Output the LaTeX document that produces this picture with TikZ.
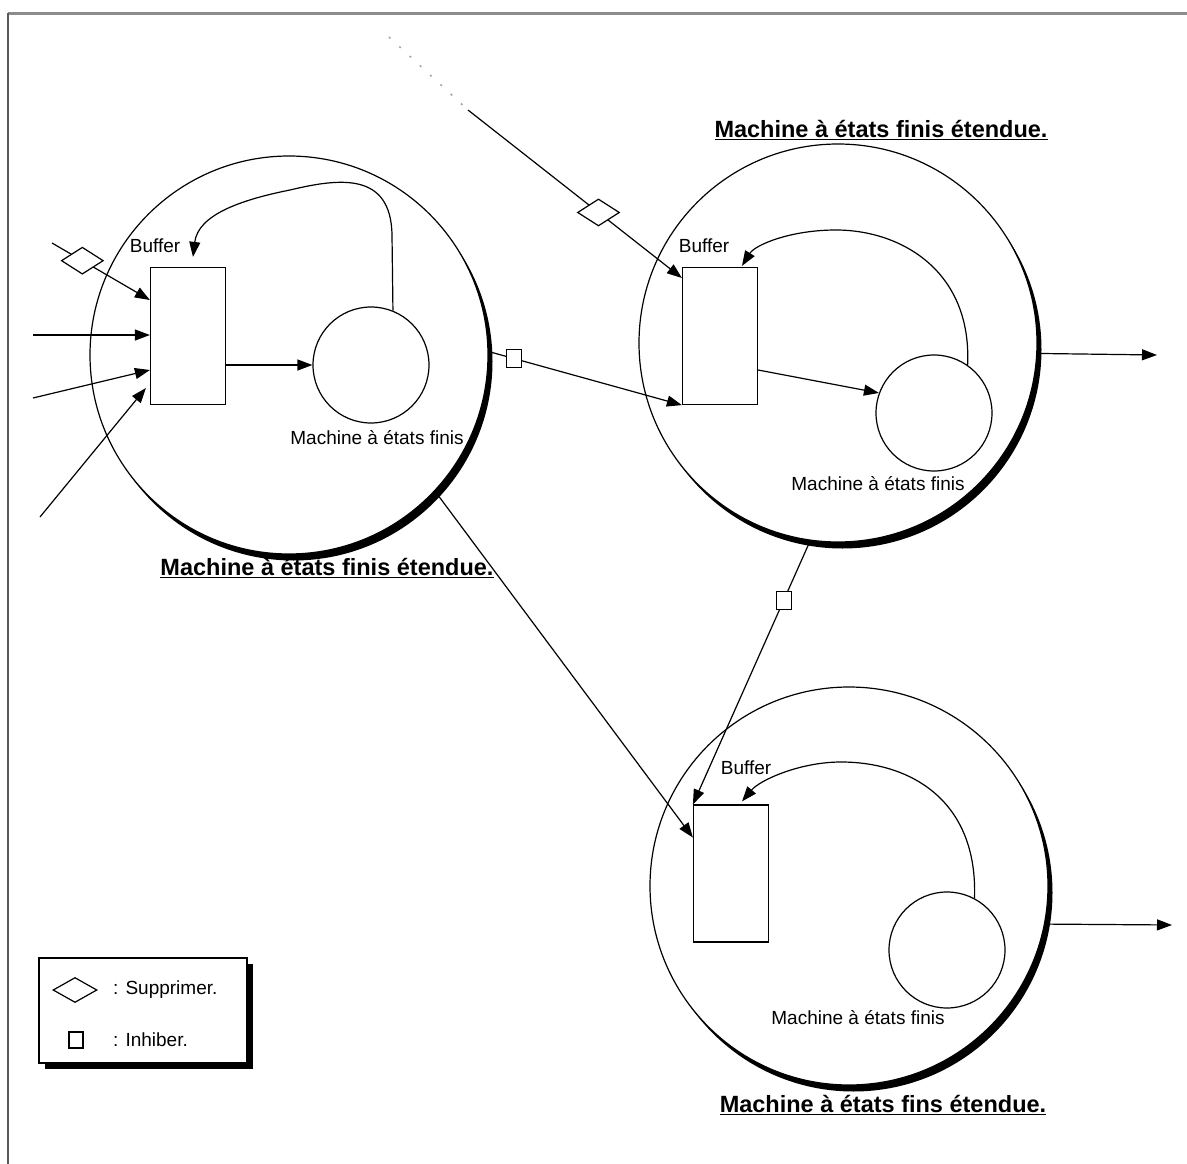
\documentclass[tikz,border=0pt]{standalone}
\usepackage{fontspec}
\setmainfont{Liberation Sans}
\usetikzlibrary{arrows.meta,shapes.geometric,shadows,calc}
\begin{document}
\begin{tikzpicture}[x=1pt,y=-1pt,
  every node/.style={font=\fontsize{19}{22}\selectfont},
  ln/.style={line width=1.2pt},
  arr/.style={ln,-{Triangle[length=15pt,width=11pt]}},
  bigc/.style={circle,draw,line width=1.2pt,fill=white,minimum size=398pt,inner sep=0pt,
    drop shadow={shadow xshift=4.5pt,shadow yshift=-6.5pt,opacity=1,fill=black}},
  smc/.style={circle,draw,line width=1.2pt,fill=white,minimum size=116pt,inner sep=0pt},
  bufbox/.style={rectangle,draw,line width=1.2pt,fill=white,minimum width=75pt,minimum height=137pt,inner sep=0pt},
  dmd/.style={diamond,draw,fill=white,line width=1.2pt,minimum width=42pt,minimum height=27pt,inner sep=0pt},
  inh/.style={rectangle,draw,fill=white,line width=1.2pt,minimum width=15pt,minimum height=18pt,inner sep=0pt},
  lbl/.style={inner sep=0pt},
  title/.style={inner sep=0pt,font=\bfseries\fontsize{23.5}{28}\selectfont},
]
\useasboundingbox (0,0) rectangle (1187,1164);
% frame
\draw[black!45,line width=3pt] (8,14) -- (1187,14);
\draw[black!65,line width=2pt] (8,13) -- (8,1164);

% big circles
\node[bigc] (c1) at (289,355) {};
\node[bigc] (c2) at (838,343) {};
\node[bigc] (c3) at (849,886) {};

% buffers
\node[bufbox] (buf1) at (188,336) {};
\node[bufbox] (buf2) at (720,336) {};
\node[bufbox] (buf3) at (731,873.5) {};

% small circles
\node[smc] (sm1) at (371,365) {};
\node[smc] (sm2) at (934,413) {};
\node[smc] (sm3) at (947,950) {};

% labels
\node[lbl] (b1) at (155,246) {Buffer};
\node[lbl] (b2) at (704,246) {Buffer};
\node[lbl] (b3) at (746,768) {Buffer};
\node[lbl] (m1) at (377,438) {Machine à états finis};
\node[lbl] (m2) at (878,484) {Machine à états finis};
\node[lbl] (m3) at (858,1018) {Machine à états finis};
\node[title] (t1) at (327,568) {\underline{Machine à états finis étendue.}};
\node[title] (t2) at (881,130) {\underline{Machine à états finis étendue.}};
\node[title] (t3) at (883,1105) {\underline{Machine à états fins étendue.}};

% internal arrows
\draw[arr] (buf1.east |- sm1.west) -- (sm1.west);
\draw[arr] ($(buf2.east)+(0,34)$) -- (sm2.160);

% feedback loops
\draw[arr] (sm1.68) -- (392,235) .. controls (391,172) and (340,178) .. (290,190)
   .. controls (240,200) and (198,215) .. ($(buf1.north)+(5,-10)$);
\draw[arr] (sm2.55) .. controls (972,270) and (900,230) .. (836,230)
   .. controls (790,230) and (755,245) .. ($(buf2.north)+(22,-1)$);
\draw[arr] (sm3.62) .. controls (978,800) and (910,762) .. (841,762)
   .. controls (800,762) and (760,780) .. ($(buf3.north)+(11,-3)$);

% inputs of buffer 1
\coordinate (i1) at (52,243);
\coordinate (i2) at (33,335);
\coordinate (i3) at (33,398);
\coordinate (i4) at (40,517);
\draw[arr] (i1) -- node[dmd,pos=0.31]{} ($(buf1.west)+(0,-36)$);
\draw[arr] (i2) -- ($(buf1.west)+(0,-1)$);
\draw[arr] (i3) -- ($(buf1.west)+(0,34)$);
\draw[arr] (i4) -- ($(buf1.west)+(-4,52)$);

% input of buffer 2 (suppressed)
\coordinate (i5) at (468,110);
\coordinate (i5f) at (389,37);
\draw[black!35,line width=1.6pt,dash pattern=on 2pt off 12pt] (i5f) -- (i5);
\draw[arr] (i5) -- node[dmd,pos=0.61]{} ($(buf2.west)+(0,-58)$);

% links between machines
\draw[arr] (c1.1) -- node[inh,pos=0.13]{} (buf2.south west);
\draw[arr] (c1.-43.5) -- ($(buf3.north west)!0.24!(buf3.south west)$);
\draw[arr] (c2.-98.6) -- node[inh,pos=0.226]{} (buf3.north west);

% outputs
\coordinate (o2) at (1157,355);
\coordinate (o3) at (1172,925);
\draw[arr] (c2.-3.5) -- (o2);
\draw[arr] (c3.-11) -- (o3);

% legend
\node[rectangle,draw,line width=1.2pt,fill=white,minimum width=208pt,minimum height=105pt,inner sep=0pt,
  drop shadow={shadow xshift=6pt,shadow yshift=-6pt,opacity=1,fill=black}] (leg) at (143,1010.5) {};
\node[dmd,minimum width=44pt,minimum height=25pt] (ld) at (75,990) {};
\node[inh,minimum width=14pt,minimum height=16pt] (ls) at (76,1040) {};
\node[lbl,anchor=west] (lt1) at (113,990) {: Supprimer.};
\node[lbl,anchor=west] (lt2) at (113,1040) {: Inhiber.};
\end{tikzpicture}
\end{document}
